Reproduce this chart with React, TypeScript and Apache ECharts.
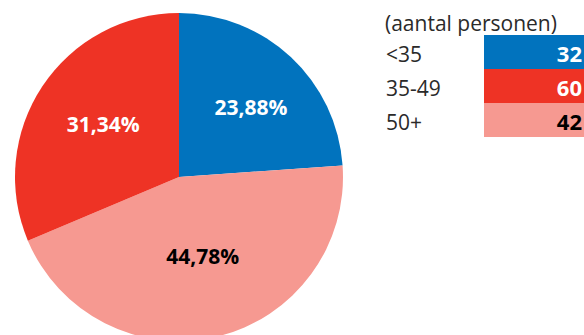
import React, { useEffect, useRef } from "react";
import * as echarts from "echarts";

const categories = ["<35", "35-49", "50+"];
const counts = [32, 60, 42];
const legendTitle = "(aantal personen)";
// pie order as drawn clockwise from 12 o'clock
const pieNames = ["<35", "35-49", "50+"];
const pieValues = [32, 60, 42];
const pieColors = ["#0173BE", "#F69991", "#EE3325"];
const pieLabelColors = ["#ffffff", "#000000", "#ffffff"];
const legendColors = ["#0173BE", "#EE3325", "#F69991"];
const legendTextColors = ["#ffffff", "#ffffff", "#000000"];

const FONT = "'Open Sans', 'Noto Sans', sans-serif";

export default function App() {
  const ref = useRef<HTMLDivElement>(null);
  useEffect(() => {
    document.body.style.margin = "0";
    const chart = echarts.init(ref.current!, null, { renderer: "svg" });
    const total = pieValues.reduce((a, b) => a + b, 0);
    const labelShift = [
      [14, -8],
      [4, -4],
      [-5, -6],
    ];
    const rowTop = 35;
    const rowH = 34;
    const graphics: any[] = [
      {
        type: "text",
        x: 385,
        y: 23,
        style: {
          text: legendTitle,
          font: `21px ${FONT}`,
          fill: "#2a2a2a",
          verticalAlign: "middle",
        },
      },
    ];
    categories.forEach((c, i) => {
      graphics.push({
        type: "rect",
        shape: { x: 484, y: rowTop + i * rowH, width: 110, height: rowH },
        style: { fill: legendColors[i] },
      });
      graphics.push({
        type: "text",
        x: 386,
        y: rowTop + i * rowH + rowH / 2 + 2,
        style: {
          text: c,
          font: `21px ${FONT}`,
          fill: "#2a2a2a",
          verticalAlign: "middle",
        },
      });
      graphics.push({
        type: "text",
        x: 582,
        y: rowTop + i * rowH + rowH / 2 + 1,
        style: {
          text: String(counts[i]),
          font: `bold 22px ${FONT}`,
          fill: legendTextColors[i],
          align: "right",
          verticalAlign: "middle",
        },
      });
    });
    chart.setOption({
      animation: false,
      graphic: graphics,
      series: [
        {
          type: "pie",
          center: [179, 177],
          radius: 164,
          startAngle: 90,
          clockwise: true,
          silent: true,
          data: pieNames.map((n, i) => ({
            name: n,
            value: pieValues[i],
            itemStyle: { color: pieColors[i] },
            label: { color: pieLabelColors[i] },
          })),
          label: {
            show: true,
            position: "inside",
            fontFamily: FONT,
            fontWeight: "bold",
            fontSize: 21,
            formatter: (p: any) =>
              ((p.value / total) * 100).toFixed(2).replace(".", ",") + "%",
          },
          labelLine: { show: false },
          labelLayout: (p: any) => ({
            dx: labelShift[p.dataIndex][0],
            dy: labelShift[p.dataIndex][1],
          }),
        },
      ],
    });
    return () => chart.dispose();
  }, []);
  return (
    <div
      ref={ref}
      style={{ position: "absolute", left: 0, top: 0, width: 584, height: 335 }}
    />
  );
}
